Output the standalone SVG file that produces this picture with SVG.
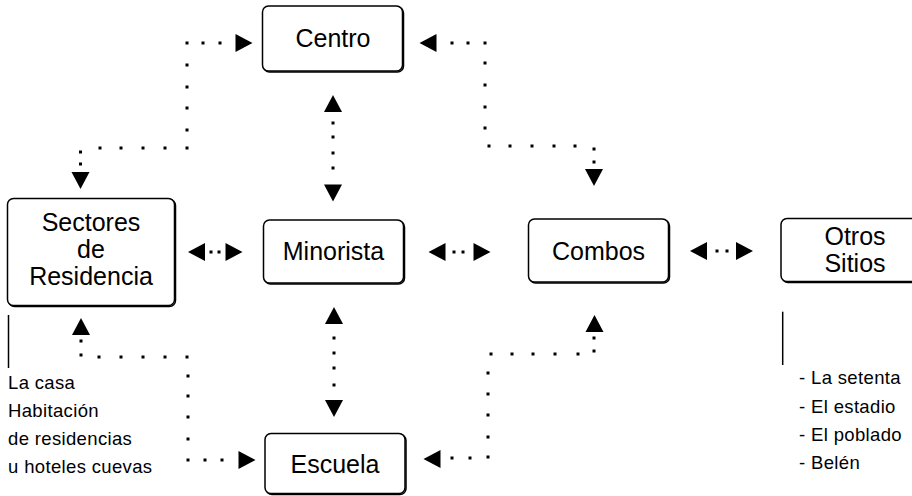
<svg xmlns="http://www.w3.org/2000/svg" xmlns:xlink="http://www.w3.org/1999/xlink" width="912" height="496" viewBox="0 0 912 496">
<style>
.box{fill:#fff;stroke:#000;stroke-width:1.5}
.sh{fill:none;stroke:#000;stroke-width:1.5}
.lbl{font-family:"Liberation Sans",Arial,sans-serif;font-size:25px;fill:#000;text-anchor:middle}
.note{font-family:"Liberation Sans",Arial,sans-serif;font-size:18.5px;fill:#000;letter-spacing:0.35px}
.dots{fill:none;stroke:#000;stroke-width:3;stroke-linecap:square}
.line{stroke:#000;stroke-width:1.5;fill:none}
.arr{fill:#000}
</style>
<defs>
<path id="tri" d="M0,0 L-17,-9 L-17,9 Z"/>
</defs>
<rect width="912" height="496" fill="#fff"/>

<g id="connectors">
<path class="dots" d="M187 43h.01M203 43h.01M220 43h.01M187 65h.01M187 87h.01M187 108h.01M187 130h.01M187 148h.01M165 148h.01M143 148h.01M121 148h.01M100 148h.01M80.5 152h.01M80.5 164h.01"/>
<use href="#tri" class="arr" transform="translate(252.5,43)"/>
<use href="#tri" class="arr" transform="translate(80.5,189) rotate(90)"/>

<path class="dots" d="M452 43h.01M468 43h.01M485 43h.01M485 63h.01M485 85h.01M485 107h.01M485 128h.01M489 146h.01M510 146h.01M532 146h.01M554 146h.01M575 146h.01M594 149h.01M594 162h.01"/>
<use href="#tri" class="arr" transform="translate(419.5,43) rotate(180)"/>
<use href="#tri" class="arr" transform="translate(594,186) rotate(90)"/>

<path class="dots" d="M333 123h.01M333 137h.01M333 153h.01M333 168h.01"/>
<use href="#tri" class="arr" transform="translate(333,95) rotate(-90)"/>
<use href="#tri" class="arr" transform="translate(333,201.5) rotate(90)"/>

<path class="dots" d="M211 252h.01M219 252h.01"/>
<use href="#tri" class="arr" transform="translate(188,252) rotate(180)"/>
<use href="#tri" class="arr" transform="translate(242.5,252)"/>

<path class="dots" d="M454 252h.01M463 252h.01"/>
<use href="#tri" class="arr" transform="translate(428.5,252) rotate(180)"/>
<use href="#tri" class="arr" transform="translate(490.5,252)"/>

<path class="dots" d="M717 251h.01M727 251h.01"/>
<use href="#tri" class="arr" transform="translate(690,251) rotate(180)"/>
<use href="#tri" class="arr" transform="translate(753,251)"/>

<path class="dots" d="M334 338h.01M334 353h.01M334 368h.01M334 385h.01"/>
<use href="#tri" class="arr" transform="translate(334,307) rotate(-90)"/>
<use href="#tri" class="arr" transform="translate(334,417) rotate(90)"/>

<path class="dots" d="M81 341h.01M81 355h.01M99 357h.01M121 357h.01M143 357h.01M165 357h.01M187 357h.01M188 376h.01M188 396h.01M188 417h.01M188 439h.01M188 460h.01M205 460h.01M222 460h.01"/>
<use href="#tri" class="arr" transform="translate(81,318) rotate(-90)"/>
<use href="#tri" class="arr" transform="translate(255.5,460)"/>

<path class="dots" d="M594 338h.01M594 351h.01M578 354h.01M555 354h.01M533 354h.01M512 354h.01M491 354h.01M488 373h.01M488 394h.01M488 415h.01M488 437h.01M488 457h.01M470 458h.01M452 458h.01"/>
<use href="#tri" class="arr" transform="translate(594.5,315) rotate(-90)"/>
<use href="#tri" class="arr" transform="translate(423.5,459) rotate(180)"/>

<line class="line" x1="8.5" y1="315" x2="8.5" y2="368"/>
<line class="line" x1="782.7" y1="311.7" x2="782.7" y2="365"/>
</g>

<g id="centro">
<rect class="sh" x="263.5" y="7" width="140" height="65" rx="6"/>
<rect class="box" x="262.5" y="6" width="140" height="65" rx="6"/>
<text class="lbl" x="333" y="47">Centro</text>
</g>

<g id="sectores">
<rect class="sh" x="8.5" y="199.5" width="167" height="107" rx="6"/>
<rect class="box" x="7.5" y="198.5" width="167" height="107" rx="6"/>
<text class="lbl" x="91" y="231">Sectores</text>
<text class="lbl" x="91" y="258">de</text>
<text class="lbl" x="91" y="285">Residencia</text>
</g>

<g id="minorista">
<rect class="sh" x="264.5" y="221" width="140" height="63" rx="6"/>
<rect class="box" x="263.5" y="220" width="140" height="63" rx="6"/>
<text class="lbl" x="333.5" y="260">Minorista</text>
</g>

<g id="combos">
<rect class="sh" x="529.5" y="220" width="140" height="63" rx="6"/>
<rect class="box" x="528.5" y="219" width="140" height="63" rx="6"/>
<text class="lbl" x="598.5" y="260">Combos</text>
</g>

<g id="otros">
<rect class="sh" x="782" y="219.5" width="148" height="63" rx="6"/>
<rect class="box" x="781" y="218.5" width="148" height="63" rx="6"/>
<text class="lbl" x="855" y="245">Otros</text>
<text class="lbl" x="855" y="272">Sitios</text>
</g>

<g id="escuela">
<rect class="sh" x="266" y="434.5" width="140" height="60" rx="6"/>
<rect class="box" x="265" y="433.5" width="140" height="60" rx="6"/>
<text class="lbl" x="335" y="473">Escuela</text>
</g>

<g id="notes-left">
<text class="note" x="8" y="388.5">La casa</text>
<text class="note" x="8" y="416.7">Habitación</text>
<text class="note" x="8" y="445">de residencias</text>
<text class="note" x="8" y="472.7">u hoteles cuevas</text>
</g>

<g id="notes-right">
<text class="note" x="799" y="384">- La setenta</text>
<text class="note" x="799" y="412.5">- El estadio</text>
<text class="note" x="799" y="440.5">- El poblado</text>
<text class="note" x="799" y="468.5">- Belén</text>
</g>
</svg>
